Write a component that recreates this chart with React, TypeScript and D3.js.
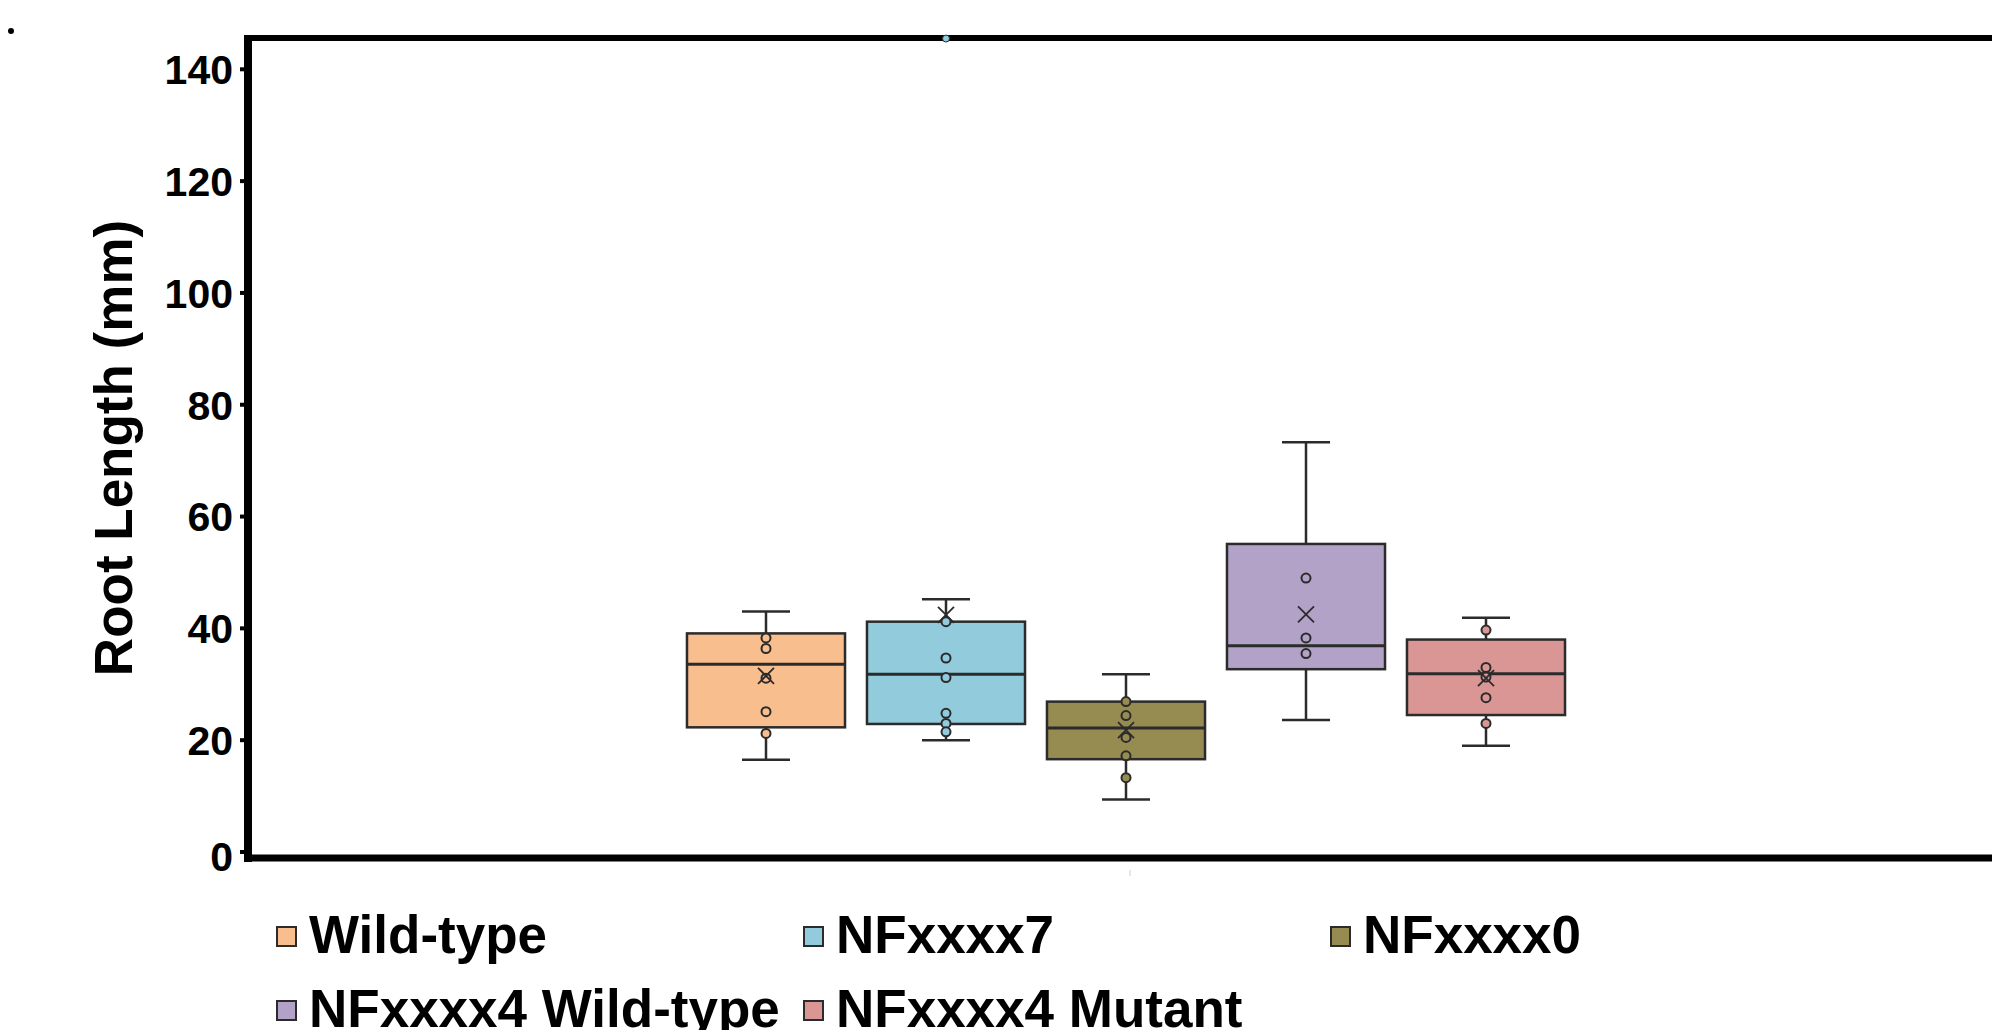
import * as d3 from "d3";

// series (one category, five genotypes)
const seriesNames = ["Wild-type", "NFxxxx7", "NFxxxx0", "NFxxxx4 Wild-type", "NFxxxx4 Mutant"];
const seriesColors = ["#F8BE8E", "#92CBDC", "#968C52", "#B3A2C7", "#DA9694"];

// box stats (mm)
const whiskerLow = [16.5, 20.0, 9.4, 23.6, 19.0];
const q1 = [22.3, 22.9, 16.6, 32.7, 24.5];
const medians = [33.6, 31.8, 22.2, 36.9, 31.9];
const q3 = [39.1, 41.2, 26.9, 55.1, 38.0];
const whiskerHigh = [43.0, 45.2, 31.8, 73.3, 41.9];
const means = [31.5, 42.4, 21.8, 42.5, 31.1];
const innerPoints = [
  [38.3, 36.4, 31.1, 25.1, 21.2],
  [41.2, 34.7, 31.2, 24.8, 23.0, 21.5],
  [26.9, 24.4, 20.5, 17.2, 13.3],
  [49.0, 38.3, 35.5],
  [39.7, 33.0, 31.3, 27.6, 23.0],
];
const outliers = [[], [145.5], [], [], []];

const yTicks = [0, 20, 40, 60, 80, 100, 120, 140];

const W = 1992;
const H = 1030;
const FONT = "'Liberation Sans', Arial, sans-serif";
const INK = "#2b2b2b";

export default function App() {
  const plotLeft = 248;
  const plotRight = 1996;
  const plotTop = 38;
  const zeroY = 852;

  const y = d3.scaleLinear().domain([0, 145.6]).range([zeroY, plotTop]);

  // boxes sit centred in the single category
  const x = d3.scaleBand<string>()
    .domain(seriesNames)
    .range([676, 1576])
    .paddingInner(0.122)
    .paddingOuter(0.061);
  const bw = x.bandwidth();
  const capW = 48;
  const catCenter = (plotLeft + plotRight) / 2 + 8;

  const legendCols = [277, 804, 1331];
  const legendRows = [953, 1027];

  return (
    <div style={{ position: "absolute", left: 0, top: 0 }}>
      <svg width={W} height={H} style={{ display: "block", background: "#fff" }}>
        {/* stray dot in the corner */}
        <circle cx={11} cy={31} r={3} fill="#000" />

        {/* boxes */}
        {seriesNames.map((name, i) => {
          const x0 = x(name)!;
          const cx = x0 + bw / 2;
          return (
            <g key={name}>
              <line x1={cx} x2={cx} y1={y(whiskerHigh[i])} y2={y(q3[i])} stroke={INK} strokeWidth={2.5} />
              <line x1={cx} x2={cx} y1={y(q1[i])} y2={y(whiskerLow[i])} stroke={INK} strokeWidth={2.5} />
              <line x1={cx - capW / 2} x2={cx + capW / 2} y1={y(whiskerHigh[i])} y2={y(whiskerHigh[i])} stroke={INK} strokeWidth={2.5} />
              <line x1={cx - capW / 2} x2={cx + capW / 2} y1={y(whiskerLow[i])} y2={y(whiskerLow[i])} stroke={INK} strokeWidth={2.5} />
              <rect
                x={x0}
                y={y(q3[i])}
                width={bw}
                height={y(q1[i]) - y(q3[i])}
                fill={seriesColors[i]}
                stroke={INK}
                strokeWidth={2.5}
              />
              <line x1={x0} x2={x0 + bw} y1={y(medians[i])} y2={y(medians[i])} stroke={INK} strokeWidth={3} />
              {innerPoints[i].map((v, j) => (
                <circle key={j} cx={cx} cy={y(v)} r={4.5} fill={seriesColors[i]} stroke={INK} strokeWidth={2} />
              ))}
              {/* mean marker */}
              <path
                d={`M${cx - 8},${y(means[i]) - 8}L${cx + 8},${y(means[i]) + 8}M${cx - 8},${y(means[i]) + 8}L${cx + 8},${y(means[i]) - 8}`}
                stroke={INK}
                strokeWidth={1.8}
                fill="none"
              />
            </g>
          );
        })}

        {/* frame: top, left, bottom */}
        <line x1={plotLeft - 4} x2={W} y1={plotTop} y2={plotTop} stroke="#000" strokeWidth={6} />
        <line x1={plotLeft} x2={plotLeft} y1={plotTop - 3} y2={862} stroke="#000" strokeWidth={8} />
        <line x1={plotLeft - 4} x2={W} y1={858} y2={858} stroke="#000" strokeWidth={7} />
        <line x1={catCenter} x2={catCenter} y1={870} y2={876} stroke="#d0d0d0" strokeWidth={1} />

        {/* outliers drawn over the frame */}
        {seriesNames.map((name, i) =>
          outliers[i].map((v, j) => (
            <circle key={name + j} cx={x(name)! + bw / 2} cy={y(v)} r={3.5} fill={seriesColors[i]} stroke={INK} strokeWidth={1} />
          ))
        )}

        {/* y axis ticks and labels */}
        {yTicks.map((t) => (
          <g key={t}>
            <line x1={240} x2={plotLeft} y1={y(t)} y2={y(t)} stroke="#000" strokeWidth={4} />
            <text
              x={233}
              y={y(t) + (t === 0 ? 4 : 0)}
              dy="0.36em"
              textAnchor="end"
              fontFamily={FONT}
              fontWeight="bold"
              fontSize={41}
              fill="#000"
            >
              {t}
            </text>
          </g>
        ))}

        <text
          transform={`translate(132,448) rotate(-90)`}
          textAnchor="middle"
          fontFamily={FONT}
          fontWeight="bold"
          fontSize={53}
          fill="#000"
        >
          Root Length (mm)
        </text>

        {/* legend */}
        {seriesNames.map((name, i) => {
          const lx = legendCols[i % 3];
          const ly = legendRows[Math.floor(i / 3)];
          return (
            <g key={name}>
              <rect x={lx} y={ly - 26} width={19} height={19} fill={seriesColors[i]} stroke={INK} strokeWidth={2} />
              <text x={lx + 32} y={ly} fontFamily={FONT} fontWeight="bold" fontSize={53} fill="#000">
                {name}
              </text>
            </g>
          );
        })}
      </svg>
    </div>
  );
}
